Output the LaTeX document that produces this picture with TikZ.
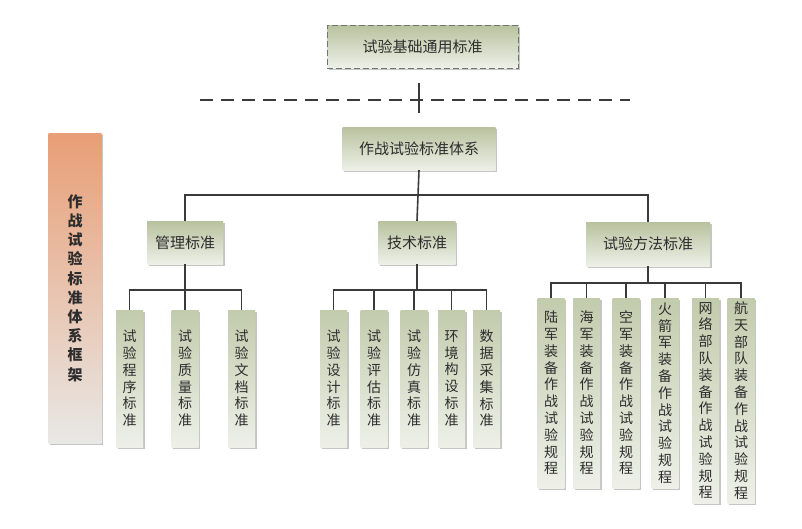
\documentclass[tikz,border=0pt]{standalone}
\usepackage{fontspec}
\newfontfamily\cjk{Noto Sans CJK SC}
\usetikzlibrary{shadows}
\definecolor{gtop}{RGB}{184,194,158}
\definecolor{gbot}{RGB}{238,240,232}
\definecolor{otop}{RGB}{232,158,118}
\definecolor{obot}{RGB}{232,232,230}
\definecolor{linec}{RGB}{58,58,58}
\definecolor{txt}{RGB}{45,45,45}
\tikzset{
  shad/.style={drop shadow={shadow xshift=1.5pt, shadow yshift=-1.5pt, fill=black!45, opacity=0.5}},
  gbox/.style={rectangle, inner sep=0pt, top color=gtop, bottom color=gbot, shad,
     font=\cjk\fontsize{15}{18}\selectfont, text=txt},
  leafbox/.style={rectangle, inner sep=0pt, minimum width=27pt, top color=gtop!85, bottom color=gbot, shad,
     align=center, font=\cjk\fontsize{14}{16.8}\selectfont, text=txt},
  conn/.style={draw=linec, line width=1.6pt},
}
\begin{document}
\begin{tikzpicture}[x=1pt,y=-1pt]
\useasboundingbox[fill=white] (0,0) rectangle (802,528);

% top dashed box
\node[gbox, draw=black!55, dashed, dash pattern=on 6pt off 3pt, line width=1pt, minimum width=191pt, minimum height=43pt] (top) at (422.5,46.5) {试验基础通用标准};

% dashed separator
\coordinate (dl) at (200,100);
\coordinate (dr) at (630,100);
\coordinate (tk1) at (419,83);
\coordinate (tk2) at (419,113);
\draw[draw=linec, line width=1.6pt, dash pattern=on 13pt off 8pt] (dl) -- (dr);
\draw[conn, line width=2pt] (tk1) -- (tk2);

% left framework label
\node[rectangle, inner sep=0pt, top color=otop, bottom color=obot, shad, minimum width=53pt, minimum height=310pt,
  align=center, font=\cjk\bfseries\fontsize{15}{19.2}\selectfont, text=txt] (frame) at (75,288)
  {作\\战\\试\\验\\标\\准\\体\\系\\框\\架};

% main node
\node[gbox, minimum width=153pt, minimum height=43pt] (main) at (419,148.5) {作战试验标准体系};

% middle nodes
\node[gbox, minimum width=76pt, minimum height=43pt] (m1) at (185,242.5) {管理标准};
\node[gbox, minimum width=77pt, minimum height=43pt] (m2) at (417,242.5) {技术标准};
\node[gbox, minimum width=124pt, minimum height=44pt] (m3) at (648,244) {试验方法标准};

\coordinate (tb) at (417,195);
\draw[conn] (m1.north) |- (tb) -| (m3.north);
\draw[conn] (main.south) -- (m2.north);

% management leaves
\node[leafbox, minimum height=137pt] (a1) at (129.5,378.5) {试\\验\\程\\序\\标\\准};
\node[leafbox, minimum height=137pt] (a2) at (185,378.5) {试\\验\\质\\量\\标\\准};
\node[leafbox, minimum height=137pt] (a3) at (241.5,378.5) {试\\验\\文\\档\\标\\准};
\coordinate (ba) at (185,290);
\draw[conn] (a1.north) |- (ba) -| (a3.north);
\draw[conn] (m1.south) -- (a2.north);

% technical leaves
\node[leafbox, minimum height=137pt] (b1) at (333.5,378.5) {试\\验\\设\\计\\标\\准};
\node[leafbox, minimum height=137pt] (b2) at (374,378.5) {试\\验\\评\\估\\标\\准};
\node[leafbox, minimum height=137pt] (b3) at (414,378.5) {试\\验\\仿\\真\\标\\准};
\node[leafbox, minimum height=137pt] (b4) at (451.5,378.5) {环\\境\\构\\设\\标\\准};
\node[leafbox, minimum height=137pt] (b5) at (486.5,378.5) {数\\据\\采\\集\\标\\准};
\coordinate (bb) at (417,290);
\draw[conn] (b1.north) |- (bb) -| (b5.north);
\draw[conn] (m2.south) -- (bb);
\foreach \n in {b2,b3,b4} \draw[conn] (\n.north) -- (\n.north |- bb);

% method leaves
\node[leafbox, minimum height=190pt] (c1) at (551,393) {陆\\军\\装\\备\\作\\战\\试\\验\\规\\程};
\node[leafbox, minimum height=190pt] (c2) at (586.5,393) {海\\军\\装\\备\\作\\战\\试\\验\\规\\程};
\node[leafbox, minimum height=190pt] (c3) at (626,393) {空\\军\\装\\备\\作\\战\\试\\验\\规\\程};
\node[leafbox, minimum height=190pt] (c4) at (665,393) {火\\箭\\军\\装\\备\\作\\战\\试\\验\\规\\程};
\node[leafbox, minimum height=205pt] (c5) at (705.5,400.5) {网\\络\\部\\队\\装\\备\\作\\战\\试\\验\\规\\程};
\node[leafbox, minimum height=205pt] (c6) at (741,400.5) {航\\天\\部\\队\\装\\备\\作\\战\\试\\验\\规\\程};
\coordinate (bc) at (648,283);
\draw[conn] (c1.north) |- (bc) -| (c6.north);
\draw[conn] (m3.south) -- (bc);
\foreach \n in {c2,c3,c4,c5} \draw[conn] (\n.north) -- (\n.north |- bc);
\end{tikzpicture}
\end{document}
